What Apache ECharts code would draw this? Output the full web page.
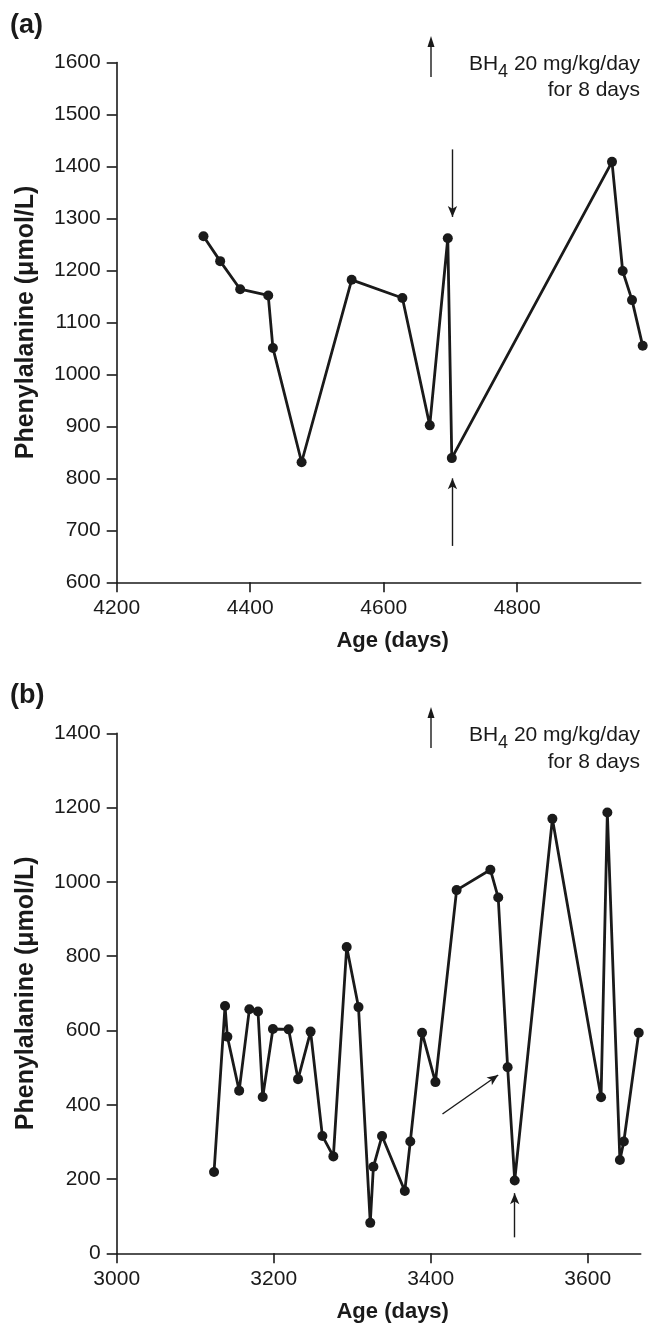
<!DOCTYPE html>
<html><head><meta charset="utf-8">
<script src="https://cdn.jsdelivr.net/npm/echarts@6/dist/echarts.min.js"></script>
<style>html,body{margin:0;padding:0;background:#fff}#c{width:662px;height:1326px}</style>
</head><body><div id="c"></div>
<script>
// Panel (a)
const daysA = [4330, 4355, 4385, 4427, 4434, 4477, 4552, 4628, 4669, 4696, 4702, 4942, 4958, 4972, 4988];
const pheA  = [1266, 1218, 1164, 1152, 1051, 831, 1182, 1147, 902, 1262, 839, 1409, 1199, 1143, 1055];
// Panel (b)
const daysB = [3124, 3138, 3141, 3156, 3169, 3180, 3186, 3199, 3219, 3231, 3247, 3262, 3276, 3293, 3308, 3323, 3327, 3338, 3367, 3374, 3389, 3406, 3433, 3476, 3486, 3498, 3507, 3555, 3617, 3625, 3641, 3646, 3665];
const pheB  = [219, 666, 583, 438, 657, 651, 421, 604, 603, 469, 597, 316, 261, 825, 663, 82, 233, 316, 168, 301, 594, 461, 978, 1033, 958, 501, 196, 1170, 420, 1187, 251, 301, 594];
// Tick labels
const xTicksA = [4200, 4400, 4600, 4800];
const xTicksB = [3000, 3200, 3400, 3600];
// Annotation arrows [from, to] in data coordinates
const arrowsA = [[[4703, 1433], [4703, 1303]], [[4703, 670], [4703, 800]]];
const arrowsB = [[[3415, 375], [3486, 480]], [[3507, 43], [3507, 162]]];
const legendLine1 = '{a|BH}{s|4}{a| 20 mg/kg/day}';
const legendLine2 = 'for 8 days';

const FONT = 'Liberation Sans, Arial, Helvetica, sans-serif';
const INK = '#1a1a1a';

function zip(xs, ys) { return xs.map((x, i) => [x, ys[i]]); }
const plain = v => String(v);

function xAxisCfg(gi, min, max, ticks) {
  return {
    gridIndex: gi, type: 'value', min: min, max: max, interval: 200,
    axisLine: { show: true, onZero: false, lineStyle: { color: INK, width: 1.6 } },
    axisTick: { show: true, inside: false, length: 10, customValues: ticks, lineStyle: { color: INK, width: 1.6 } },
    axisLabel: { show: true, customValues: ticks, formatter: plain, fontSize: 21, color: INK, fontFamily: FONT, margin: 15 },
    splitLine: { show: false },
    name: 'Age (days)', nameLocation: 'middle', nameGap: 48,
    nameTextStyle: { fontSize: 22, fontWeight: 'bold', color: INK, fontFamily: FONT, padding: [0, 0, 0, 28] }
  };
}
function yAxisCfg(gi, min, max, interval) {
  return {
    gridIndex: gi, type: 'value', min: min, max: max, interval: interval,
    axisLine: { show: true, onZero: false, lineStyle: { color: INK, width: 1.6 } },
    axisTick: { show: true, inside: false, length: 10, lineStyle: { color: INK, width: 1.6 } },
    axisLabel: { show: true, formatter: plain, fontSize: 21, color: INK, fontFamily: FONT, margin: 16 },
    splitLine: { show: false },
    name: 'Phenylalanine (\u03bcmol/L)', nameLocation: 'middle', nameGap: 78, nameRotate: 90,
    nameTextStyle: { fontSize: 25, fontWeight: 'bold', color: INK, fontFamily: FONT }
  };
}
function arrowData(arr) {
  return arr.map(a => [{ coord: a[0] }, { coord: a[1] }]);
}
function seriesCfg(gi, xs, ys, arrows) {
  return {
    type: 'line', xAxisIndex: gi, yAxisIndex: gi, data: zip(xs, ys),
    clip: false, symbol: 'circle', symbolSize: 10, showAllSymbol: true,
    lineStyle: { color: INK, width: 2.8 }, itemStyle: { color: INK },
    emphasis: { disabled: true },
    markLine: {
      silent: true, symbol: ['none', 'arrow'], symbolSize: [7, 11],
      label: { show: false },
      lineStyle: { color: INK, width: 1.4, type: 'solid' },
      emphasis: { disabled: true },
      data: arrowData(arrows)
    }
  };
}
function legendGroup(x, y1, y2, ax, atop, abot) {
  return [
    { type: 'line', shape: { x1: ax, y1: abot, x2: ax, y2: atop + 8 }, style: { stroke: INK, lineWidth: 1.4 } },
    { type: 'polygon', shape: { points: [[ax, atop], [ax - 3.5, atop + 11], [ax + 3.5, atop + 11]] }, style: { fill: INK } },
    { type: 'text', x: x, y: y1, style: {
      text: legendLine1, align: 'right', verticalAlign: 'middle', fill: INK, font: '21px ' + FONT,
      rich: { a: { fontSize: 21, fontFamily: FONT, fill: INK, lineHeight: 26 },
              s: { fontSize: 18, fontFamily: FONT, fill: INK, lineHeight: 14, padding: [16, 0, 0, 0] } } } },
    { type: 'text', x: x, y: y2, style: {
      text: legendLine2, align: 'right', verticalAlign: 'middle', fill: INK, font: '21px ' + FONT } }
  ];
}

const chart = echarts.init(document.getElementById('c'), null, { renderer: 'canvas' });
chart.setOption({
  animation: false,
  backgroundColor: '#fff',
  grid: [
    { left: 116.7, top: 62.6, width: 524, height: 519.7, outerBoundsMode: 'none', containLabel: false },
    { left: 116.7, top: 733.4, width: 524, height: 519.9, outerBoundsMode: 'none', containLabel: false }
  ],
  xAxis: [xAxisCfg(0, 4200, 4985, xTicksA), xAxisCfg(1, 3000, 3667.5, xTicksB)],
  yAxis: [yAxisCfg(0, 600, 1600, 100), yAxisCfg(1, 0, 1400, 200)],
  series: [seriesCfg(0, daysA, pheA, arrowsA), seriesCfg(1, daysB, pheB, arrowsB)],
  graphic: [
    { type: 'text', x: 10, y: 12, style: { text: '(a)', font: 'bold 27px ' + FONT, fill: INK } },
    { type: 'text', x: 10, y: 682, style: { text: '(b)', font: 'bold 27px ' + FONT, fill: INK } }
  ].concat(legendGroup(640, 64, 90, 431, 36, 77)).concat(legendGroup(640, 735, 762, 431, 707, 748))
});
</script></body></html>
